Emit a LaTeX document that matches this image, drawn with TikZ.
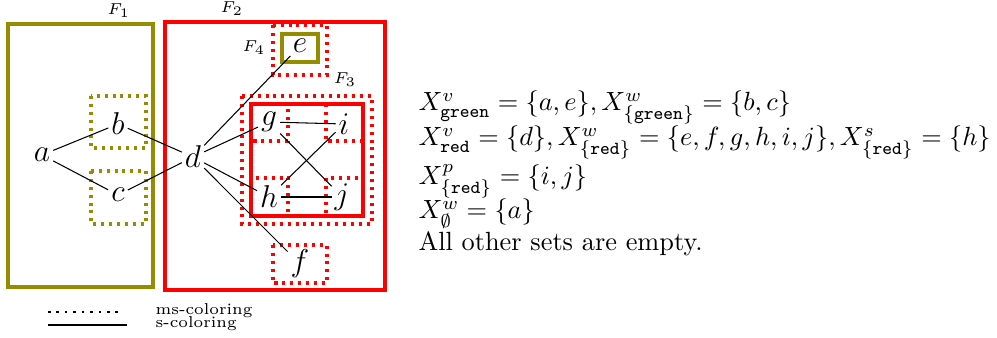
\documentclass[tikz,border=0pt]{standalone}
\usepackage{amssymb}
\definecolor{myolive}{RGB}{150,140,0}
\definecolor{myred}{RGB}{255,0,0}
\begin{document}
\begin{tikzpicture}[x=0.38pt,y=-0.38pt,
  vtx/.style={inner sep=1pt,font=\large},
  sbox/.style={line width=1.15pt},
  dbox/.style={line width=1.15pt,dash pattern=on 1.15pt off 1.85pt},
  flabel/.style={font=\fontsize{6}{7}\selectfont},
  edge/.style={line width=0.4pt}]
\useasboundingbox (0,0) rectangle (997,338);
% big boxes
\draw[sbox,myolive] (8,24) rectangle (153,287);
\draw[sbox,myred] (165,22) rectangle (385,290);
\node[flabel] (F1) at (119,11) {$F_1$};
\node[flabel] (F2) at (232,9) {$F_2$};
\node[flabel] (F3) at (345,80) {$F_3$};
\node[flabel] (F4) at (254,48) {$F_4$};
% dotted boxes
\draw[dbox,myolive] (91,96) rectangle (146,148);
\draw[dbox,myolive] (91,171) rectangle (146,224);
\draw[dbox,myred] (273,25) rectangle (327,75);
\draw[sbox,myolive] (282,34) rectangle (318,62);
\draw[dbox,myred] (242,96) rectangle (372,224);
\draw[sbox,myred,line width=1.25pt] (251,104) rectangle (363,216);
\draw[dbox,myred] (251,104) rectangle (288,141);
\draw[dbox,myred] (326,104) rectangle (363,141);
\draw[dbox,myred] (251,178) rectangle (288,216);
\draw[dbox,myred] (326,178) rectangle (363,216);
\draw[dbox,myred] (273,245) rectangle (327,283);
% vertices
\node[vtx] (a) at (42,155) {$a$};
\node[vtx] (b) at (118,124) {$b$};
\node[vtx] (c) at (118,195) {$c$};
\node[vtx] (d) at (193,157) {$d$};
\node[vtx] (e) at (300,46) {$e$};
\node[vtx] (g) at (269,122) {$g$};
\node[vtx] (i) at (344,124) {$i$};
\node[vtx] (h) at (269,197) {$h$};
\node[vtx] (j) at (342,197) {$j$};
\node[vtx] (f) at (300,264) {$f$};
% edges
\draw[edge] (a) -- (b);
\draw[edge] (a) -- (c);
\draw[edge] (b) -- (d);
\draw[edge] (c) -- (d);
\draw[edge] (d) -- (e);
\draw[edge] (d) -- (g);
\draw[edge] (d) -- (h);
\draw[edge] (d) -- (f);
\draw[edge] (g) -- (i);
\draw[edge] (h) -- (j);
\draw[edge] (g) -- (j);
\draw[edge] (h) -- (i);
% right text
\node[anchor=base west,inner sep=0pt] (t1) at (418,111) {$X^v_{\mathtt{green}}=\{a,e\}, X^w_{\{\mathtt{green}\}}=\{b,c\}$};
\node[anchor=base west,inner sep=0pt] (t2) at (418,146) {$X^v_{\mathtt{red}}=\{d\}, X^w_{\{\mathtt{red}\}}=\{e,f,g,h,i,j\}, X^s_{\{\mathtt{red}\}}=\{h\}$};
\node[anchor=base west,inner sep=0pt] (t3) at (418,185) {$X^p_{\{\mathtt{red}\}}=\{i,j\}$};
\node[anchor=base west,inner sep=0pt] (t4) at (418,219) {$X^w_{\emptyset}=\{a\}$};
\node[anchor=base west,inner sep=0pt] (t5) at (418,251) {All other sets are empty.};
% legend
\coordinate (l1a) at (48,312);
\coordinate (l1b) at (122,312);
\coordinate (l2a) at (48,325);
\coordinate (l2b) at (127,325);
\draw[line width=1pt,dash pattern=on 1pt off 2.2pt] (l1a) -- (l1b);
\draw[line width=1pt] (l2a) -- (l2b);
\node[flabel,anchor=base west,inner sep=0pt] (ms) at (155,315) {ms-coloring};
\node[flabel,anchor=base west,inner sep=0pt] (s) at (155,328) {s-coloring};
\end{tikzpicture}
\end{document}
